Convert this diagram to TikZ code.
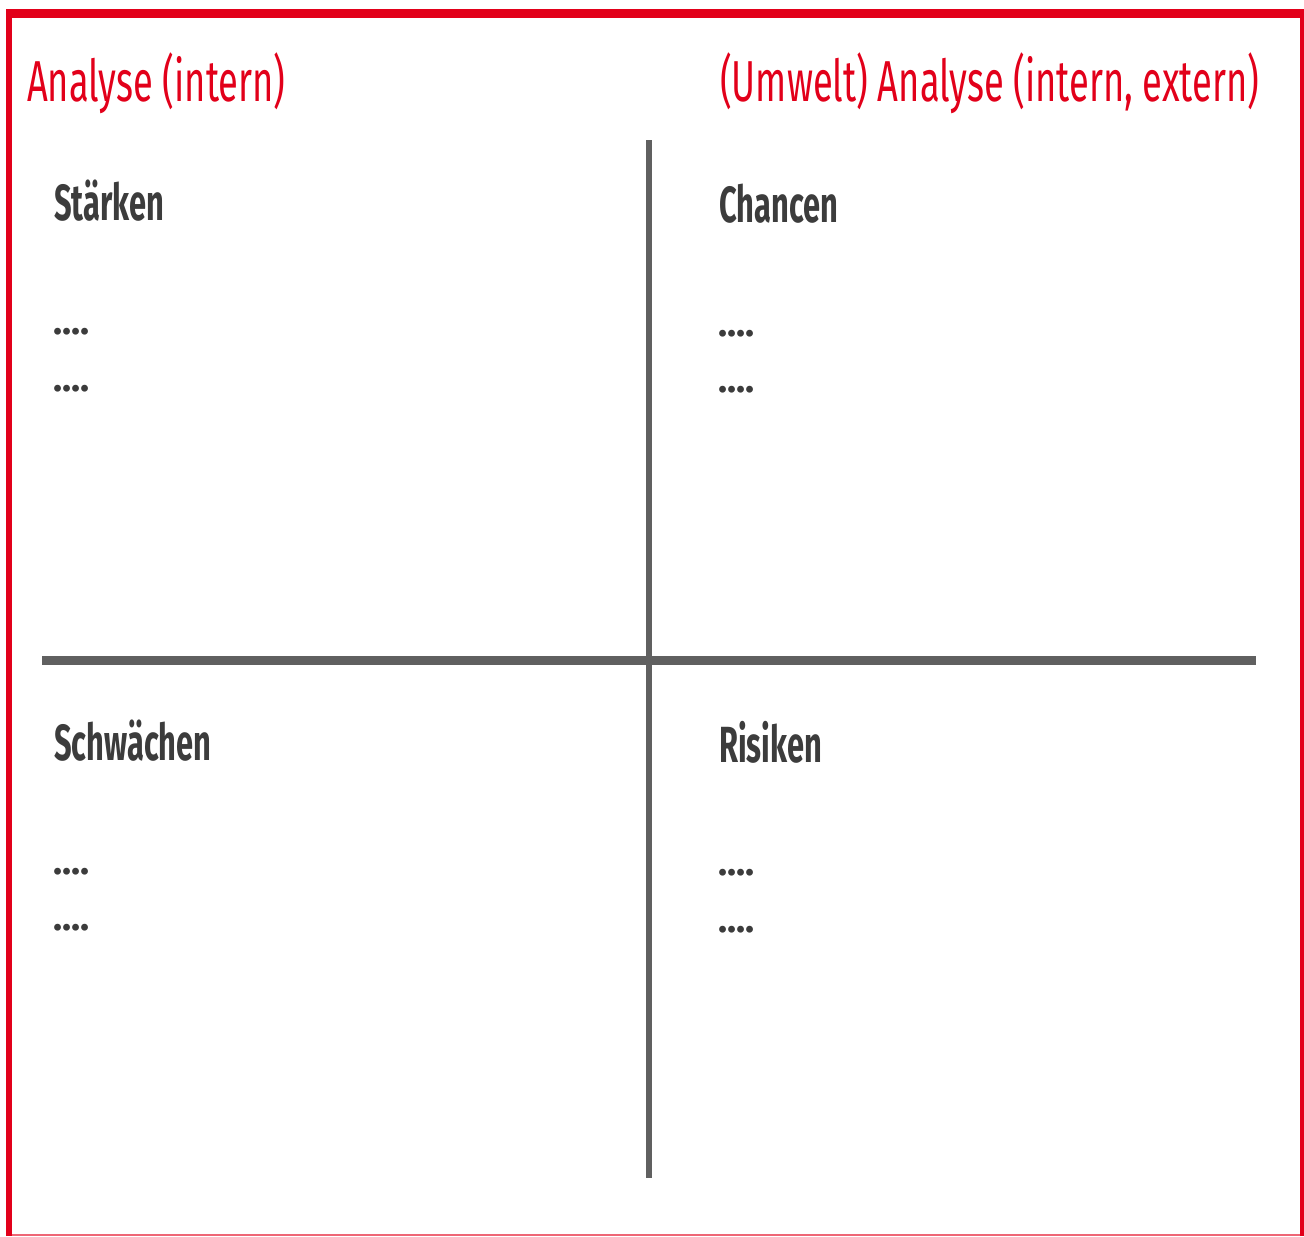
\documentclass[tikz,border=0pt]{standalone}
\usepackage{fontspec}
\usepackage{xcolor}
\usepackage{tikz}
\usetikzlibrary{positioning}
\setmainfont[FakeStretch=0.64]{Fira Sans}
\newfontfamily\titlefont[FakeStretch=0.628]{Fira Sans}
\newfontfamily\fieldfont[FakeStretch=0.607]{Fira Sans}
\newfontfamily\dotfont{Fira Sans}

\definecolor{swotred}{HTML}{E2001A}
\definecolor{swotgray}{HTML}{606060}
\definecolor{swottext}{HTML}{3C3C3C}

\tikzset{
  title/.style={anchor=base west, inner sep=0pt, text=swotred,
    font=\titlefont\fontsize{58}{60}\selectfont},
  field/.style={anchor=base west, inner sep=0pt, text=swottext,
    font=\fieldfont\fontsize{51}{53}\selectfont\bfseries},
  dots/.style={anchor=base west, inner sep=0pt, text=swottext,
    font=\dotfont\fontsize{38}{40}\selectfont\bfseries},
  axis/.style={draw=swotgray},
}

\begin{document}
\begin{tikzpicture}[x=1bp, y=-1bp]
    \useasboundingbox (0,0) rectangle (1304,1236);
    % red frame
    \draw [swotred, line width=9bp] (6,13.8) -- (1304,13.8);
    \draw [swotred, line width=6.3bp] (9.1,9.3) -- (9.1,1236);
    \draw [swotred, line width=3.5bp] (1302.2,9.3) -- (1302.2,1236);
    \draw [swotred!60, line width=2bp] (12,1235) -- (1300,1235);
    % titles
    \node [title] (intern) at (27,101) {Analyse (intern)};
    \node [title] (extern) at (720,101) {(Umwelt) Analyse (intern, extern)};
    % cross
    \coordinate (top) at (649,140);
    \coordinate (bottom) at (649,1178);
    \coordinate (left) at (42,660);
    \coordinate (right) at (1256,660);
    \draw [axis, line width=6.5bp] (top) -- (bottom);
    \draw [axis, line width=9bp] (left) -- (right);
    % fields
    \node [field] (staerken) at (54,220) {Stärken};
    \node [dots] (s1) at (53,334) {....};
    \node [dots] (s2) at (53,391) {....};
    \node [field] (chancen) at (719,222) {Chancen};
    \node [dots] (c1) at (718,336) {....};
    \node [dots] (c2) at (718,392) {....};
    \node [field] (schwaechen) at (54,760) {Schwächen};
    \node [dots] (w1) at (53,874) {....};
    \node [dots] (w2) at (53,930) {....};
    \node [field] (risiken) at (719,762) {Risiken};
    \node [dots] (r1) at (718,875) {....};
    \node [dots] (r2) at (718,932) {....};
\end{tikzpicture}
\end{document}
